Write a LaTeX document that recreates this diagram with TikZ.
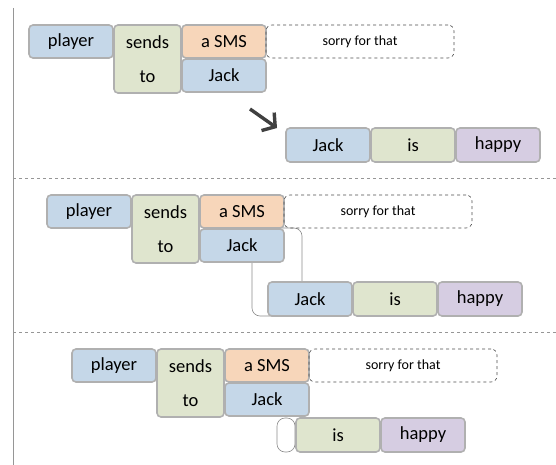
\documentclass[tikz,border=0pt]{standalone}
\usepackage{fontspec}
\setmainfont{Carlito}
\usetikzlibrary{positioning,arrows.meta}

\definecolor{wblue}{RGB}{197,215,232}
\definecolor{wgreen}{RGB}{223,229,206}
\definecolor{worange}{RGB}{247,214,186}
\definecolor{wpurple}{RGB}{214,205,226}
\definecolor{wline}{RGB}{176,176,176}
\definecolor{sepline}{RGB}{150,150,150}

\begin{document}
\begin{tikzpicture}[
    x=1pt,y=-1pt,
    font=\fontsize{18.5}{20}\selectfont,
    word/.style={draw=wline,line width=1.6pt,rounded corners=4pt,
                 inner sep=0pt,outer sep=0pt,align=center,
                 minimum width=84pt,minimum height=33pt},
    tall/.style={word,fill=wgreen,minimum width=67pt,minimum height=68pt,
                 font=\fontsize{18.5}{34}\selectfont},
    extra/.style={draw=black!70,dashed,line width=0.6pt,rounded corners=6pt,
                  inner sep=0pt,outer sep=0pt,minimum width=188pt,minimum height=33pt,
                  font=\fontsize{14}{16}\selectfont},
    hole/.style={draw=black!45,line width=0.6pt,fill=white,rounded corners=8pt,
                 inner sep=0pt,outer sep=0pt},
    sep/.style={sepline,dashed,line width=0.6pt},
    turn/.style={-{Straight Barb[length=9pt,width=22pt]},line width=3.4pt,black!75}
]
  \useasboundingbox (0,0) rectangle (556,465);
  \draw[sepline,line width=0.8pt] (13,8) -- (13,465);
  \draw[sep] (13,178) -- (556,178);
  \draw[sep] (13,332) -- (556,332);

  % first version
  \node[word,fill=wblue,anchor=north west] (p1player) at (29,25) {player};
  \node[tall,right=1pt of p1player.north east,anchor=north west] (p1sends) {sends\\to};
  \node[word,fill=worange,right=1pt of p1sends.north east,anchor=north west] (p1sms) {a SMS};
  \node[word,fill=wblue,below=1pt of p1sms] (p1jack) {Jack};
  \node[extra,right=0pt of p1sms] (p1sorry) {sorry for that};
  \node[word,fill=wblue,anchor=north west,minimum height=34pt] (p1jack2) at (286,128) {Jack};
  \node[word,fill=wgreen,right=1pt of p1jack2,minimum height=34pt] (p1is) {is};
  \node[word,fill=wpurple,right=1pt of p1is,minimum height=34pt] (p1happy) {happy};
  \coordinate (p1from) at (250,109);
  \coordinate (p1to) at (277,128);
  \draw[turn] (p1from) -- (p1to);

  % second version
  \node[hole,anchor=north west,minimum width=50pt,minimum height=88pt] (p2link) at (252,228) {};
  \node[word,fill=wblue,anchor=north west] (p2player) at (47,195) {player};
  \node[tall,right=1pt of p2player.north east,anchor=north west] (p2sends) {sends\\to};
  \node[word,fill=worange,right=1pt of p2sends.north east,anchor=north west] (p2sms) {a SMS};
  \node[word,fill=wblue,below=1pt of p2sms] (p2jack) {Jack};
  \node[extra,right=0pt of p2sms] (p2sorry) {sorry for that};
  \node[word,fill=wblue,anchor=north west,minimum height=34pt] (p2jack2) at (268,282) {Jack};
  \node[word,fill=wgreen,right=1pt of p2jack2,minimum height=34pt] (p2is) {is};
  \node[word,fill=wpurple,right=1pt of p2is,minimum height=34pt] (p2happy) {happy};

  % third version
  \node[word,fill=wblue,anchor=north west] (p3player) at (72,349) {player};
  \node[tall,right=1pt of p3player.north east,anchor=north west] (p3sends) {sends\\to};
  \node[word,fill=worange,right=1pt of p3sends.north east,anchor=north west] (p3sms) {a SMS};
  \node[word,fill=wblue,below=1pt of p3sms] (p3jack) {Jack};
  \node[extra,right=0pt of p3sms] (p3sorry) {sorry for that};
  \node[hole,anchor=north west,minimum width=18pt,minimum height=34pt] (p3gap) at (277,418) {};
  \node[word,fill=wgreen,right=1pt of p3gap,minimum height=34pt] (p3is) {is};
  \node[word,fill=wpurple,right=1pt of p3is,minimum height=34pt] (p3happy) {happy};
\end{tikzpicture}
\end{document}
